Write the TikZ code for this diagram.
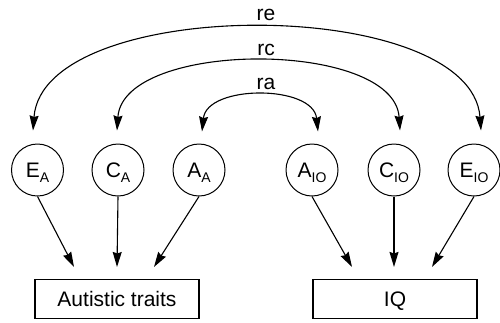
\documentclass[tikz,border=0pt]{standalone}
\usepackage{fontspec}
\setmainfont{Liberation Sans}
\usetikzlibrary{arrows.meta}
\newcommand{\lowidx}[1]{\raisebox{-5pt}{\fontsize{14pt}{14pt}\selectfont #1}}
\begin{document}
\begin{tikzpicture}[x=1pt,y=-1pt,
  lat/.style={circle,draw,line width=1pt,minimum size=52pt,inner sep=0pt,
    font=\fontsize{21pt}{23pt}\selectfont,text depth=0pt},
  obs/.style={rectangle,draw,line width=1.1pt,minimum width=164pt,minimum height=39pt,
    inner sep=0pt,font=\fontsize{21pt}{24pt}\selectfont,text depth=0pt},
  tip/.tip={Stealth[length=15pt,width=9pt,inset=1.5pt]},
  arr/.style={line width=1.1pt,-tip},
  darr/.style={line width=1.1pt,tip-tip},
  lab/.style={anchor=base,inner sep=0pt,font=\fontsize{21pt}{23pt}\selectfont}]
\useasboundingbox (0,0) rectangle (500,322);

% latent factors
\node[lat] (EA)  at (37.5,170) {E\lowidx{A}};
\node[lat] (CA)  at (118,170)  {C\lowidx{A}};
\node[lat] (AA)  at (199,170)  {A\lowidx{A}};
\node[lat] (AIO) at (312,170)  {A\lowidx{IO}};
\node[lat] (CIO) at (394,170)  {C\lowidx{IO}};
\node[lat] (EIO) at (474,170)  {E\lowidx{IO}};

% observed variables
\node[obs] (AT) at (117,299) {Autistic traits};
\node[obs] (IQ) at (395,299) {IQ};

% arrow end points above the boxes
\coordinate (t1) at ([xshift=-43pt,yshift=12pt]AT.north);
\coordinate (t2) at ([xshift=0pt,yshift=12pt]AT.north);
\coordinate (t3) at ([xshift=37pt,yshift=12pt]AT.north);
\coordinate (t4) at ([xshift=-43pt,yshift=12pt]IQ.north);
\coordinate (t5) at ([xshift=-1pt,yshift=12pt]IQ.north);
\coordinate (t6) at ([xshift=37pt,yshift=12pt]IQ.north);

\draw[arr] (EA.south)  -- (t1);
\draw[arr] (CA.south)  -- (t2);
\draw[arr] (AA.south)  -- (t3);
\draw[arr] (AIO.south) -- (t4);
\draw[arr] (CIO.south) -- (t5);
\draw[arr] (EIO.south) -- (t6);

% correlation arcs
\coordinate (reL) at ([xshift=-4.5pt,yshift=13pt]EA.north);
\coordinate (reR) at ([xshift=7pt,yshift=13pt]EIO.north);
\coordinate (rcL) at ([xshift=-1pt,yshift=13pt]CA.north);
\coordinate (rcR) at ([xshift=6pt,yshift=13pt]CIO.north);
\coordinate (raL) at ([xshift=3pt,yshift=12pt]AA.north);
\coordinate (raR) at ([xshift=6pt,yshift=12pt]AIO.north);

\draw[darr] (reL) .. controls +(10,-136) and +(-10,-136) .. (reR);
\draw[darr] (rcL) .. controls +(6,-91) and +(-6,-91) .. (rcR);
\draw[darr] (raL) .. controls +(5,-47) and +(-5,-47) .. (raR);

\node[lab] (lre) at (266,20) {re};
\node[lab] (lrc) at (266,55) {rc};
\node[lab] (lra) at (266,89) {ra};
\end{tikzpicture}
\end{document}
